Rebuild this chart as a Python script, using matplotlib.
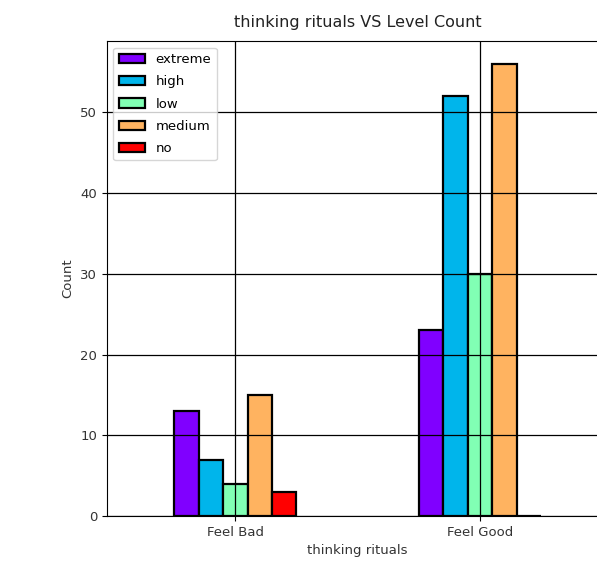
import matplotlib.pyplot as plt
import numpy as np

categories = ["Feel Bad", "Feel Good"]
levels = ["extreme", "high", "low", "medium", "no"]
extreme = [13, 23]
high = [7, 52]
low = [4, 30]
medium = [15, 56]
no = [3, 0]
series = [extreme, high, low, medium, no]

colors = plt.cm.rainbow(np.linspace(0, 1, len(levels)))

fig = plt.figure(figsize=(5.97, 5.64), dpi=100)
ax = fig.add_axes([0.179, 0.085, 0.84, 0.842])

x = np.arange(len(categories))
w = 0.1
for i, (name, vals) in enumerate(zip(levels, series)):
    ax.bar(x + (i - 2) * w, vals, width=w, color=colors[i],
           edgecolor="black", linewidth=1.6, label=name, zorder=2)

ax.grid(True, color="black", linewidth=0.9, zorder=3)
ax.set_axisbelow(False)
ax.set_xlim(-0.525, 1.525)
ax.set_ylim(0, 58.8)
ax.set_xticks(x)
ax.set_xticklabels(categories, fontsize=9.5, color="#333333")
ax.tick_params(axis="y", labelsize=9.5, labelcolor="#333333")
ax.set_xlabel("thinking rituals", fontsize=9.5, color="#333333")
ax.set_ylabel("Count", fontsize=9.5, color="#333333")
ax.set_title("thinking rituals VS Level Count", fontsize=11.5, color="#222222", pad=10)
ax.legend(loc="upper left", fontsize=9.5, labelspacing=0.7)

fig.savefig("out.png", dpi=100)
